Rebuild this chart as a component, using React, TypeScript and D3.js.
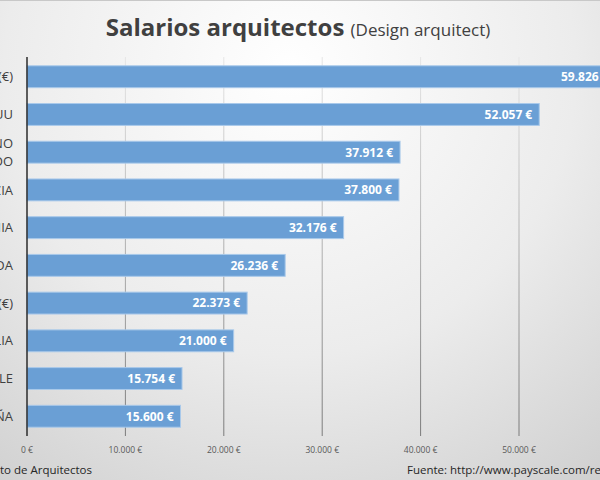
import React, { useEffect, useRef } from "react";
import * as d3 from "d3";

// salaries of architects by country (order as shown, top to bottom)
const countries = [
  "SUIZA (€)",
  "EE.UU",
  "REINO UNIDO",
  "FRANCIA",
  "ALEMANIA",
  "IRLANDA",
  "MÉXICO (€)",
  "ITALIA",
  "CHILE",
  "ESPAÑA",
];
const salaries = [59826, 52057, 37912, 37800, 32176, 26236, 22373, 21000, 15754, 15600];
const xTicks = [0, 10000, 20000, 30000, 40000, 50000];

const W = 600;
const H = 480;
const FONT = "'Open Sans', 'Noto Sans', sans-serif";

const euro = (v: number) => d3.format(",")(v).replace(/,/g, ".") + " €";

const App = () => {
  const ref = useRef<SVGSVGElement>(null);

  useEffect(() => {
    const svg = d3.select(ref.current);
    svg.selectAll("*").remove();

    const x = d3.scaleLinear().domain([0, 60000]).range([27, 617.4]);
    const y = d3
      .scaleBand()
      .domain(countries)
      .range([57.5, 435.5])
      .paddingInner(0.42)
      .paddingOuter(0.22);

    const defs = svg.append("defs");
    const bg = defs
      .append("radialGradient")
      .attr("id", "bg")
      .attr("gradientUnits", "userSpaceOnUse")
      .attr("cx", 290)
      .attr("cy", 70)
      .attr("r", 520);
    bg.append("stop").attr("offset", "0%").attr("stop-color", "#ffffff");
    bg.append("stop").attr("offset", "55%").attr("stop-color", "#ececec");
    bg.append("stop").attr("offset", "100%").attr("stop-color", "#cfcfcf");

    const grid = defs
      .append("linearGradient")
      .attr("id", "grid")
      .attr("gradientUnits", "userSpaceOnUse")
      .attr("x1", 0)
      .attr("y1", 57)
      .attr("x2", 0)
      .attr("y2", 436);
    grid.append("stop").attr("offset", "0%").attr("stop-color", "#e6e6e6");
    grid.append("stop").attr("offset", "100%").attr("stop-color", "#7a7a7a");

    svg.append("rect").attr("width", W).attr("height", H).attr("fill", "url(#bg)");
    svg
      .append("line")
      .attr("x1", 0)
      .attr("x2", W)
      .attr("y1", 0.5)
      .attr("y2", 0.5)
      .attr("stroke", "#c8c8c8");

    // gridlines
    svg
      .append("g")
      .selectAll("line")
      .data(xTicks.slice(1))
      .join("line")
      .attr("x1", (d) => x(d))
      .attr("x2", (d) => x(d))
      .attr("y1", 57)
      .attr("y2", 436)
      .attr("stroke", "url(#grid)")
      .attr("stroke-width", 1);

    // tick labels
    svg
      .append("g")
      .selectAll("text")
      .data(xTicks)
      .join("text")
      .attr("x", (d) => x(d))
      .attr("y", 453)
      .attr("text-anchor", "middle")
      .attr("font-family", FONT)
      .attr("font-size", 8.5)
      .attr("fill", "#595959")
      .text((d) => euro(d));

    // bars
    svg
      .append("g")
      .selectAll("rect")
      .data(salaries)
      .join("rect")
      .attr("x", x(0))
      .attr("y", (_, i) => y(countries[i])!)
      .attr("width", (d) => x(d) - x(0))
      .attr("height", y.bandwidth())
      .attr("fill", "#6a9fd5")
      .attr("stroke", "#a9c9ea")
      .attr("stroke-width", 1);

    // value labels
    svg
      .append("g")
      .selectAll("text")
      .data(salaries)
      .join("text")
      .attr("x", (d) => x(d) - 7)
      .attr("y", (_, i) => y(countries[i])! + y.bandwidth() / 2)
      .attr("dy", "0.36em")
      .attr("text-anchor", "end")
      .attr("font-family", FONT)
      .attr("font-size", 12)
      .attr("font-weight", "bold")
      .attr("fill", "#ffffff")
      .text((d) => euro(d));

    // axis line
    svg
      .append("line")
      .attr("x1", x(0))
      .attr("x2", x(0))
      .attr("y1", 57)
      .attr("y2", 436)
      .attr("stroke", "#2b2b2b")
      .attr("stroke-width", 1.5);

    // category labels (clipped by the left edge, as in the source image)
    const cat = svg
      .append("g")
      .selectAll("text")
      .data(countries)
      .join("text")
      .attr("x", 13)
      .attr("y", (d) => y(d)! + y.bandwidth() / 2)
      .attr("text-anchor", "end")
      .attr("font-family", FONT)
      .attr("font-size", 13)
      .attr("fill", "#404040");
    cat.each(function (d) {
      const words = d === "REINO UNIDO" ? ["REINO", "UNIDO"] : [d];
      const t = d3.select(this);
      words.forEach((w, i) => {
        t.append("tspan")
          .attr("x", 13)
          .attr("dy", words.length === 1 ? "0.36em" : i === 0 ? "-0.32em" : "1.35em")
          .text(w);
      });
    });

    // title
    const title = svg
      .append("text")
      .attr("x", 298)
      .attr("y", 36)
      .attr("text-anchor", "middle")
      .attr("font-family", FONT)
      .attr("fill", "#404040");
    title
      .append("tspan")
      .attr("font-size", 24)
      .attr("font-weight", "bold")
      .text("Salarios arquitectos ");
    title.append("tspan").attr("font-size", 17).text("(Design arquitect)");

    // footer
    svg
      .append("text")
      .attr("x", 92)
      .attr("y", 474)
      .attr("text-anchor", "end")
      .attr("font-family", FONT)
      .attr("font-size", 11.5)
      .attr("fill", "#262626")
      .text("Fuente: Sindicato de Arquitectos");
    svg
      .append("text")
      .attr("x", 407)
      .attr("y", 474)
      .attr("font-family", FONT)
      .attr("font-size", 11.5)
      .attr("fill", "#262626")
      .text("Fuente: http://www.payscale.com/research/ES");
  }, []);

  return (
    <svg
      ref={ref}
      width={W}
      height={H}
      style={{ position: "absolute", left: 0, top: 0 }}
    />
  );
};

export default App;
